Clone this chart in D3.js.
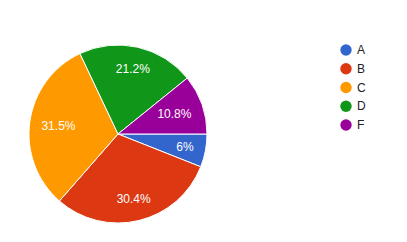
<!DOCTYPE html>
<html>
<head>
<meta charset="utf-8">
<script src="https://cdn.jsdelivr.net/npm/d3@7"></script>
<style>
	body { margin: 0; background: #ffffff; }
	text { font-family: Arial, "Liberation Sans", sans-serif; }
</style>
</head>
<body>
<svg id="chart" width="407" height="242"></svg>
<script>
// Chart data.
var categories = ["A", "B", "C", "D", "F"];
var values = [6, 30.4, 31.5, 21.2, 10.8];
var colors = ["#3366cc", "#dc3912", "#ff9900", "#109618", "#990099"];

var svg = d3.select("#chart");

var cx = 118, cy = 134, radius = 89;
// Labels are pushed out until the far corner of their box touches this radius.
var label_fit_radius = radius * 0.875;

var data = categories.map(function(cat, i)
{
	return {"label": cat, "value": values[i], "color": colors[i]};
});

// Pie starts at 3 o'clock and goes clockwise.
var pie = d3.pie()
	.sort(null)
	.value(function(d) { return d.value; })
	.startAngle(Math.PI / 2)
	.endAngle(Math.PI / 2 + 2 * Math.PI);

var arcs = pie(data);
var arc = d3.arc().innerRadius(0).outerRadius(radius);

var g = svg.append("g").attr("transform", "translate(" + cx + "," + cy + ")");

g.selectAll("path")
	.data(arcs)
	.enter()
	.append("path")
	.attr("d", arc)
	.attr("fill", function(d) { return d.data.color; })
	.attr("stroke", "#ffffff")
	.attr("stroke-width", 1);

g.selectAll("text")
	.data(arcs)
	.enter()
	.append("text")
	.attr("text-anchor", "middle")
	.attr("dy", "0.35em")
	.attr("font-size", 12)
	.attr("fill", "#ffffff")
	.text(function(d) { return d.data.value + "%"; })
	.attr("transform", function(d)
	{
		var mid = (d.startAngle + d.endAngle) / 2;
		var ux = Math.sin(mid), uy = -Math.cos(mid);
		var hw = this.getComputedTextLength() / 2, hh = 6;
		var b = Math.abs(ux) * hw + Math.abs(uy) * hh;
		var c = hw * hw + hh * hh - label_fit_radius * label_fit_radius;
		var t = -b + Math.sqrt(b * b - c);
		return "translate(" + (t * ux) + "," + (t * uy) + ")";
	});

// Legend on the right.
var legend = svg.append("g").attr("transform", "translate(346,50)");
var rows = legend.selectAll("g")
	.data(data)
	.enter()
	.append("g")
	.attr("transform", function(d, i) { return "translate(0," + (i * 18.75) + ")"; });

rows.append("circle")
	.attr("r", 5.7)
	.attr("fill", function(d) { return d.color; });

rows.append("text")
	.attr("x", 11)
	.attr("dy", "0.35em")
	.attr("font-size", 12)
	.attr("fill", "#222222")
	.text(function(d) { return d.label; });
</script>
</body>
</html>
